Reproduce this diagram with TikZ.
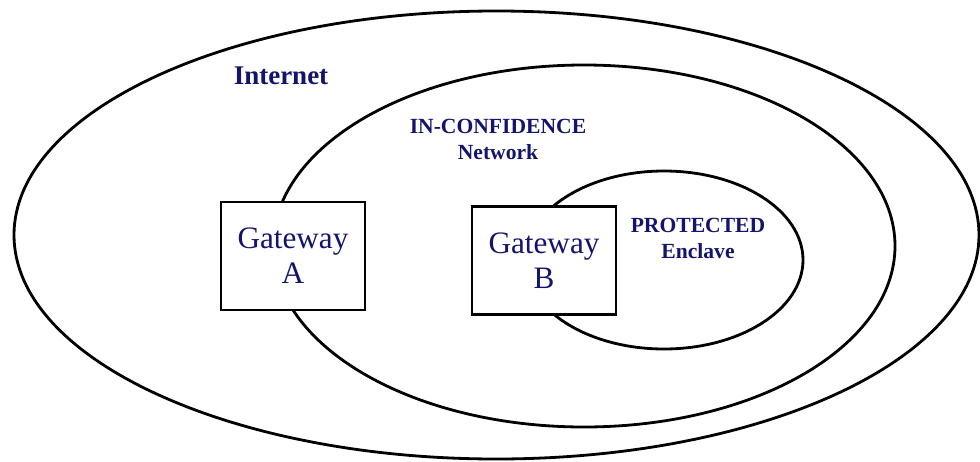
\documentclass[tikz,border=0pt]{standalone}
\usepackage{fontspec}
\setmainfont{Liberation Serif}
\usepackage{xcolor}
\definecolor{zonetext}{RGB}{20,20,110}

\tikzset{
  zone/.style={line width=1.4pt},
  gatebox/.style={draw, line width=1.2pt, fill=white, text=zonetext, align=center,
    minimum width=72pt, minimum height=54pt, inner sep=0pt,
    font=\fontsize{15.6}{17.5}\selectfont},
  zonelabel/.style={text=zonetext, align=center, inner sep=0pt,
    font=\bfseries\fontsize{10.8}{13}\selectfont}
}

\begin{document}
\begin{tikzpicture}[x=0.5pt,y=-0.5pt]
	\useasboundingbox (0,0) rectangle (980,461);

	\draw[zone] (496.5,235) ellipse [x radius=482.5, y radius=224];
	\draw[zone] (584,246) ellipse [x radius=311, y radius=181];
	\draw[zone] (664,260) ellipse [x radius=139, y radius=89];

	\node[zonelabel, font=\bfseries\fontsize{13.5}{16}\selectfont] (internet) at (281,76) {Internet};
	\node[zonelabel] (inconf) at (498,139) {IN-CONFIDENCE\\Network};
	\node[zonelabel] (protected) at (698,238) {PROTECTED\\Enclave};

	\node[gatebox] (gwA) at (293,256) {Gateway\\A};
	\node[gatebox] (gwB) at (544,260.5) {Gateway\\B};

\end{tikzpicture}
\end{document}
